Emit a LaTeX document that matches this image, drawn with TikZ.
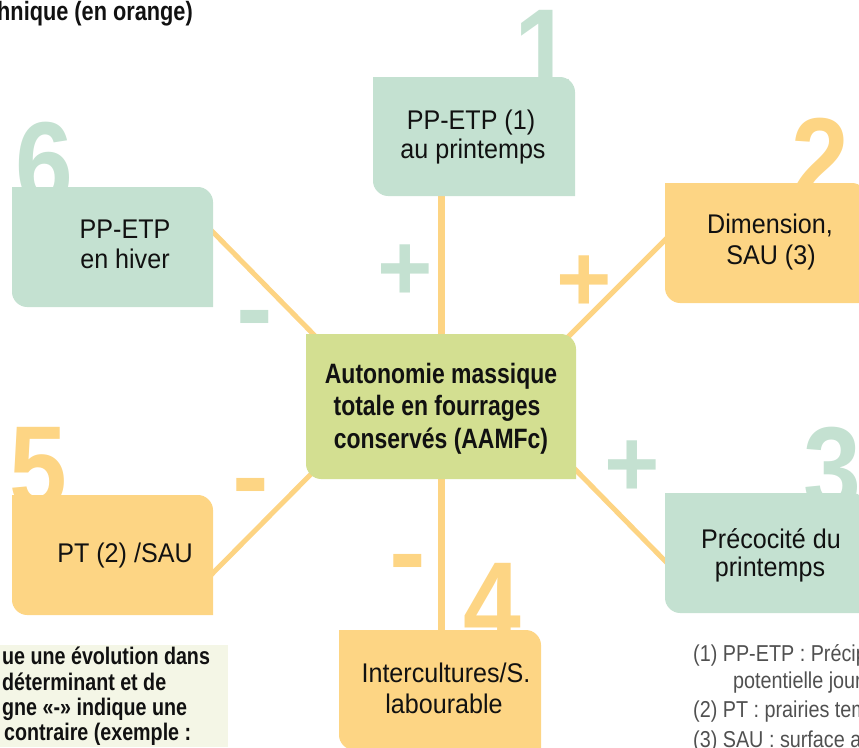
\documentclass[tikz,border=0pt]{standalone}
\usepackage{fontspec}
\setmainfont{Liberation Sans}
\newfontfamily\boxfont{Liberation Sans}[FakeStretch=0.93]
\newfontfamily\boldcn{Liberation Sans Bold}[FakeStretch=0.82]
\newfontfamily\notefont{Liberation Sans}[FakeStretch=0.86]
\newfontfamily\signfont{Liberation Sans Bold}
\newfontfamily\digitfont{Liberation Sans Bold}[FakeStretch=0.88]
\usetikzlibrary{calc}
\definecolor{gbox}{HTML}{C4E1D1}
\definecolor{obox}{HTML}{FDD584}
\definecolor{cbox}{HTML}{D3DF91}
\definecolor{oline}{HTML}{FDD483}
\definecolor{cream}{HTML}{F4F6E6}
\definecolor{ink}{HTML}{111111}
\definecolor{note}{HTML}{505050}
\newcommand\tagshape[2]{%
  \fill[#2] (#1.north west) -- ($(#1.north east)+(-15,0)$)
    .. controls ($(#1.north east)+(-7,0)$) and ($(#1.north east)+(0,7)$) .. ($(#1.north east)+(0,15)$)
    -- (#1.south east) -- ($(#1.south west)+(15,0)$)
    .. controls ($(#1.south west)+(7,0)$) and ($(#1.south west)+(0,-7)$) .. ($(#1.south west)+(0,-15)$)
    -- cycle;}
\tikzset{
  boxarea/.style={rectangle, inner sep=0pt, outer sep=0pt, draw=none},
  btxt/.style={font={\boxfont\fontsize{27}{30}\selectfont}, text=ink, anchor=base, inner sep=0pt},
  ctxt/.style={font={\boldcn\fontsize{28}{32}\selectfont}, text=ink, anchor=base, inner sep=0pt},
  ltxt/.style={font={\boldcn\fontsize{24}{25}\selectfont}, text=ink, anchor=base west, inner sep=0pt},
  captxt/.style={font={\boldcn\fontsize{26.5}{28}\selectfont}, text=ink, anchor=base west, inner sep=0pt},
  ntxt/.style={font={\notefont\fontsize{23}{25}\selectfont}, text=note, anchor=base west, inner sep=0pt},
  digit/.style={font={\digitfont\fontsize{118}{118}\selectfont}, anchor=north, inner sep=0pt},
  plussign/.style={font={\signfont\fontsize{95}{95}\selectfont}, anchor=base, inner sep=0pt},
  minussign/.style={font={\signfont\fontsize{110}{110}\selectfont}, anchor=base, inner sep=0pt},
  link/.style={draw=oline, line width=5pt},
  vlink/.style={draw=oline, line width=7pt},
}
\begin{document}
\begin{tikzpicture}[x=1pt,y=-1pt]
\useasboundingbox (0,0) rectangle (859,747);
\clip (0,0) rectangle (859,747);
% box areas
\node[boxarea, minimum width=202pt, minimum height=119pt] (b1) at (474,136.5) {};
\node[boxarea, minimum width=202pt, minimum height=120pt] (b2) at (766,243) {};
\node[boxarea, minimum width=202pt, minimum height=120pt] (b3) at (766,553) {};
\node[boxarea, minimum width=202pt, minimum height=120pt] (b4) at (440,690) {};
\node[boxarea, minimum width=201pt, minimum height=120pt] (b5) at (112.5,555) {};
\node[boxarea, minimum width=201pt, minimum height=120pt] (b6) at (112.5,247) {};
\node[boxarea, minimum width=270pt, minimum height=145pt] (c) at (441,406.5) {};
% big numbers
\node[digit, text=gbox] (d1) at (543,10) {1};
\node[digit, text=obox] (d2) at (820,118) {2};
\node[digit, text=gbox] (d3) at (832,427) {3};
\node[digit, text=obox] (d4) at (492,563) {4};
\node[digit, text=obox] (d5) at (38,427) {5};
\node[digit, text=gbox] (d6) at (44,122) {6};
% connectors
\draw[link] ($(b6.east)+(-5,-20)$) -- ($(c.north west)+(17,10)$);
\draw[link] ($(b2.west)+(5,-8)$) -- ($(c.north east)+(-15,10)$);
\draw[link] ($(b3.west)+(5,13)$) -- ($(c.south east)+(-10,-19)$);
\draw[link] ($(b5.east)+(-5,23)$) -- ($(c.south west)+(16,-16)$);
\draw[vlink] ($(c.north |- b1.south)+(0,-5)$) -- ($(c.north)+(0,5)$);
\draw[vlink] ($(c.south)+(0,-5)$) -- ($(c.south |- b4.north)+(0,5)$);
% box fills
\tagshape{b1}{gbox}
\tagshape{b2}{obox}
\tagshape{b3}{gbox}
\tagshape{b4}{obox}
\tagshape{b5}{obox}
\tagshape{b6}{gbox}
\tagshape{c}{cbox}
% signs
\node[plussign, text=gbox] (s1) at (405,300) {+};
\node[plussign, text=obox] (s2) at (584,311) {+};
\node[plussign, text=gbox] (s3) at (632,496) {+};
\node[minussign, text=gbox] (s6) at (255,345) {-};
\node[minussign, text=obox] (s5) at (251,513) {-};
\node[minussign, text=obox] (s4) at (408,589) {-};
% box texts
\node[btxt] (t1a) at (471,129) {PP-ETP (1)};
\node[btxt] (t1b) at (473,158) {au printemps};
\node[btxt] (t2a) at (770,233) {Dimension,};
\node[btxt] (t2b) at (771,264) {SAU (3)};
\node[btxt] (t3a) at (771,548) {Précocité du};
\node[btxt] (t3b) at (770,576) {printemps};
\node[btxt] (t4a) at (446,682) {Intercultures/S.};
\node[btxt] (t4b) at (444,713) {labourable};
\node[btxt] (t5a) at (125,562) {PT (2) /SAU};
\node[btxt] (t6a) at (125,238) {PP-ETP};
\node[btxt] (t6b) at (125,268) {en hiver};
\node[ctxt] (tca) at (441,383) {Autonomie massique};
\node[ctxt] (tcb) at (437,415) {totale en fourrages};
\node[ctxt] (tcc) at (441,448) {conservés (AAMFc)};
% top-left caption
\node[captxt] (cap) at (-3,20) {hnique (en orange)};
% bottom-left legend
\fill[cream] (0,645) rectangle (228,747);
\node[ltxt] (l1) at (2,664) {ue une évolution dans};
\node[ltxt] (l2) at (2,690) {déterminant et de};
\node[ltxt] (l3) at (2,715) {gne «-» indique une};
\node[ltxt] (l4) at (4,740) {contraire (exemple :};
% footnotes
\node[ntxt] (n1) at (693,661) {(1) PP-ETP : Précipitations};
\node[ntxt] (n2) at (733,688) {potentielle journalière};
\node[ntxt] (n3) at (693,717) {(2) PT : prairies temporaires};
\node[ntxt] (n4) at (693,747) {(3) SAU : surface agricole};
\end{tikzpicture}
\end{document}
